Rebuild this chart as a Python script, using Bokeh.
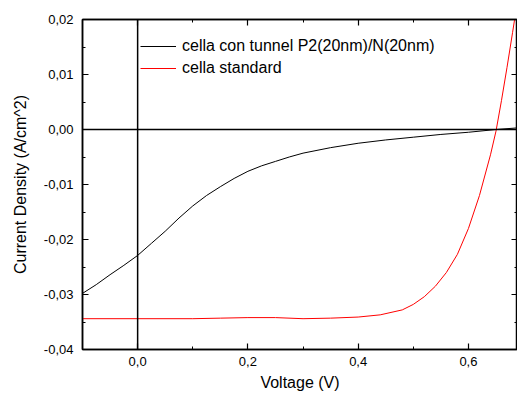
from bokeh.plotting import figure
from bokeh.models import (LinearAxis, SingleIntervalTicker, CustomJSTickFormatter,
                          Span, Legend, Range1d)
from bokeh.embed import file_html
from bokeh.resources import INLINE

# ---- data ----
tunnel_v = [-0.1, -0.075, -0.05, -0.025, 0.0, 0.025, 0.05, 0.075, 0.1, 0.125, 0.15, 0.175,
            0.2, 0.225, 0.25, 0.275, 0.3, 0.35, 0.4, 0.45, 0.5, 0.55, 0.6, 0.65, 0.69]
tunnel_j = [-0.0298, -0.0282, -0.0264, -0.0247, -0.0229, -0.0207, -0.0185, -0.0161, -0.0139,
            -0.0120, -0.0104, -0.0089, -0.0076, -0.0066, -0.0058, -0.0050, -0.0043, -0.0033,
            -0.0025, -0.0019, -0.0014, -0.0009, -0.0005, 0.0000, 0.0003]

std_v = [-0.1, 0.0, 0.1, 0.15, 0.2, 0.25, 0.3, 0.35, 0.4, 0.44, 0.48, 0.5, 0.52, 0.54,
         0.56, 0.58, 0.6, 0.62, 0.64, 0.65, 0.66, 0.67, 0.68, 0.69]
std_j = [-0.0344, -0.0344, -0.0344, -0.0343, -0.0342, -0.0342, -0.0344, -0.0343, -0.0341,
         -0.0337, -0.0328, -0.0318, -0.0304, -0.0285, -0.0260, -0.0227, -0.0180, -0.0120,
         -0.0046, -0.0003, 0.0053, 0.0113, 0.0176, 0.0240]

series_names = ["cella con tunnel P2(20nm)/N(20nm)", "cella standard"]
x_title = "Voltage (V)"
y_title = "Current Density (A/cm^2)"

FONT = "Liberation Sans"

p = figure(width=517, height=396, output_backend="svg", toolbar_location=None,
           x_range=Range1d(-0.1, 0.689), y_range=Range1d(-0.04, 0.02),
           x_axis_location=None, y_axis_location=None,
           min_border_left=82, min_border_right=0, min_border_top=19, min_border_bottom=47)
p.background_fill_color = "white"
p.border_fill_color = "white"
p.outline_line_color = "black"
p.outline_line_width = 1.5
p.xgrid.visible = False
p.ygrid.visible = False

xfmt = CustomJSTickFormatter(code="var t = Math.abs(tick) < 1e-9 ? 0 : tick; return t.toFixed(1).replace('.', ',');")
yfmt = CustomJSTickFormatter(code="var t = Math.abs(tick) < 1e-9 ? 0 : tick; return t.toFixed(2).replace('.', ',');")
blank = CustomJSTickFormatter(code="return '';")

def style(ax, standoff):
    ax.major_tick_in = 6
    ax.major_tick_out = 0
    ax.minor_tick_in = 3
    ax.minor_tick_out = 0
    ax.axis_line_color = "black"
    ax.axis_line_width = 1.5
    ax.major_tick_line_color = "black"
    ax.minor_tick_line_color = "black"
    ax.major_tick_line_width = 1.2
    ax.minor_tick_line_width = 1.0
    ax.major_label_text_font = FONT
    ax.major_label_text_font_size = "13px"
    ax.major_label_text_color = "black"
    ax.major_label_standoff = standoff
    ax.axis_label_text_font = FONT
    ax.axis_label_text_font_style = "normal"
    ax.axis_label_text_font_size = "16px"
    ax.axis_label_text_color = "black"

xb = LinearAxis(ticker=SingleIntervalTicker(interval=0.2, num_minor_ticks=2), formatter=xfmt,
                axis_label=x_title)
style(xb, 7)
xb.axis_label_standoff = 5
p.add_layout(xb, "below")
xt = LinearAxis(ticker=SingleIntervalTicker(interval=0.2, num_minor_ticks=2), formatter=blank)
style(xt, 0)
p.add_layout(xt, "above")
yl = LinearAxis(ticker=SingleIntervalTicker(interval=0.01, num_minor_ticks=2), formatter=yfmt,
                axis_label=y_title)
style(yl, 9)
yl.axis_label_standoff = 12
p.add_layout(yl, "left")
yr = LinearAxis(ticker=SingleIntervalTicker(interval=0.01, num_minor_ticks=2), formatter=blank)
style(yr, 0)
p.add_layout(yr, "right")

p.add_layout(Span(location=0, dimension="width", line_color="black", line_width=1.5))
p.add_layout(Span(location=0, dimension="height", line_color="black", line_width=1.5))

r1 = p.line(tunnel_v, tunnel_j, line_color="black", line_width=1)
r2 = p.line(std_v, std_j, line_color="red", line_width=1)

legend = Legend(items=[(series_names[0], [r1]), (series_names[1], [r2])],
                location=(58, 271), orientation="vertical",
                glyph_width=36, glyph_height=20, label_height=20, spacing=2,
                padding=0, margin=0, label_standoff=6,
                label_text_font=FONT, label_text_font_size="16px", label_text_color="black",
                border_line_color=None, background_fill_alpha=0)
p.add_layout(legend)

open("out.html", "w").write(file_html(p, INLINE))
